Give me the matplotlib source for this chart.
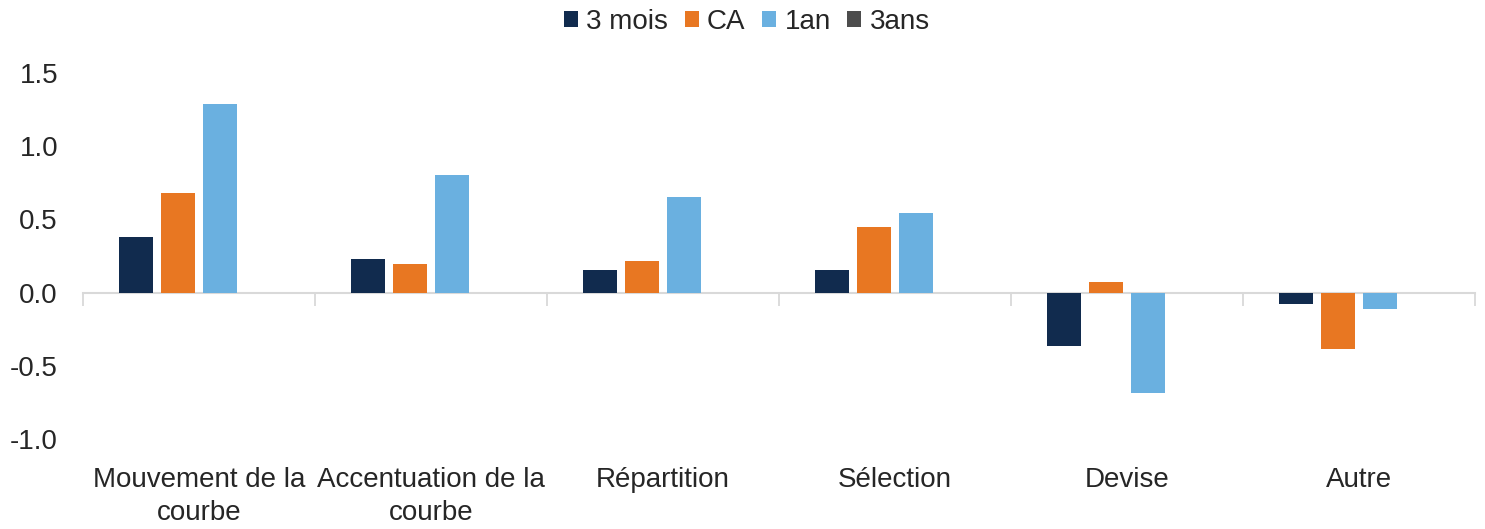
import numpy as np
import matplotlib
matplotlib.use("Agg")
import matplotlib.pyplot as plt
from matplotlib.patches import Patch

plt.rcParams['font.family'] = ['Liberation Sans', 'DejaVu Sans']

categories = ["Mouvement de la\ncourbe", "Accentuation de la\ncourbe", "Répartition",
              "Sélection", "Devise", "Autre"]
series_names = ["3 mois", "CA", "1an", "3ans"]
trois_mois = [0.377, 0.227, 0.157, 0.157, -0.366, -0.08]
ca = [0.677, 0.198, 0.218, 0.45, 0.07, -0.384]
un_an = [1.29, 0.806, 0.654, 0.545, -0.684, -0.11]
trois_ans = [np.nan, np.nan, np.nan, np.nan, np.nan, np.nan]
colors = ["#112B4E", "#E87722", "#6AB0E0", "#4D4D4D"]
yticks = [-1.0, -0.5, 0.0, 0.5, 1.0, 1.5]

W, H = 1485, 529
fig = plt.figure(figsize=(W / 100, H / 100), dpi=100)
left, right, top, bottom = 83, 1475, 73, 439
ax = fig.add_axes([left / W, (H - bottom) / H, (right - left) / W, (bottom - top) / H])

x = np.arange(len(categories))
slot = 0.18
bw = 0.146
all_series = [trois_mois, ca, un_an, trois_ans]
for i, (vals, c) in enumerate(zip(all_series, colors)):
    offs = (i - 1.5) * slot
    ax.bar(x + offs, vals, width=bw, color=c, zorder=3)

ax.set_xlim(-0.5, len(categories) - 0.5)
ax.set_ylim(-1.0, 1.5)
ax.set_yticks(yticks)
ax.set_yticklabels([f"{v:.1f}" for v in yticks])
ax.set_xticks(x)
ax.set_xticklabels(categories, linespacing=1.35)
ax.tick_params(axis='x', length=0, pad=20, labelsize=20, colors='#262626')
ax.tick_params(axis='y', length=0, pad=18, labelsize=20, colors='#262626')
for s in ax.spines.values():
    s.set_visible(False)

# zero line with boundary ticks
sec = ax.secondary_xaxis(1.0 / 2.5)
sec.set_xticks(np.arange(len(categories) + 1) - 0.5)
sec.set_xticklabels([])
sec.tick_params(axis='x', length=9, width=1.3, color='#D9D9D9', direction='out')
sec.spines['bottom'].set_color('#D9D9D9')
sec.spines['bottom'].set_linewidth(1.5)
for k in ['top', 'left', 'right']:
    sec.spines[k].set_visible(False)

handles = [Patch(facecolor=c, edgecolor='none') for c in colors]
fig.legend(handles, series_names, loc='upper center', bbox_to_anchor=(0.503, 1.03),
           ncol=4, frameon=False, fontsize=20, handlelength=0.5, handleheight=0.5,
           handletextpad=0.3, columnspacing=0.6, labelcolor='#262626')

fig.savefig("out.png", dpi=100)
